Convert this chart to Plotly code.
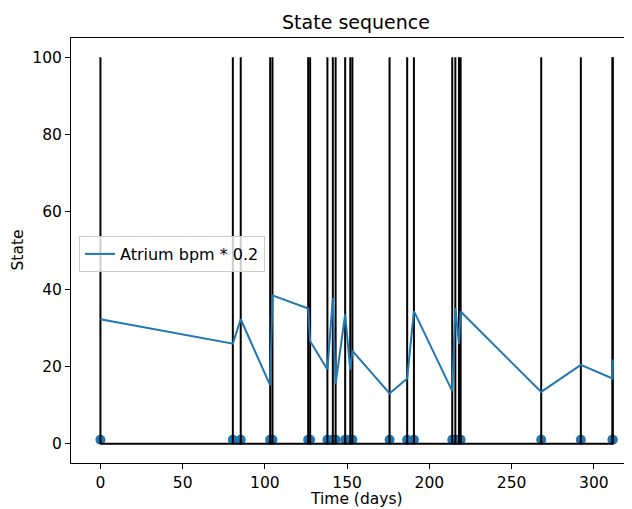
import plotly.graph_objects as go

# Event times (days) and the atrium bpm * 0.2 value recorded at each event
event_days = [0, 80.5, 85.3, 103.2, 104.6, 126.3, 127.5, 138.0, 141.3, 143.0,
              148.8, 151.9, 153.2, 175.8, 186.5, 190.6, 213.9, 215.8, 218.0,
              219.0, 268.0, 292.1, 311.3, 311.5]
atrium_bpm_scaled = [32.2, 25.9, 32.2, 15.1, 38.4, 35.0, 26.5, 19.2, 37.7, 15.5,
                     33.5, 19.1, 24.0, 13.0, 16.9, 34.3, 13.6, 35.2, 25.8,
                     34.2, 13.4, 20.4, 16.9, 21.8]
state_low = 0
state_high = 100
marker_level = 1

x_ticks = [0, 50, 100, 150, 200, 250, 300]
y_ticks = [0, 20, 40, 60, 80, 100]

BLUE = "#1f77b4"
FONT = "DejaVu Sans"

fig = go.Figure()

# Event markers
fig.add_trace(go.Scatter(
    x=event_days, y=[marker_level] * len(event_days), mode="markers",
    marker=dict(color=BLUE, size=10, line=dict(width=0)),
    showlegend=False, hoverinfo="skip"))

# Vertical state lines
vx, vy = [], []
for d in event_days:
    vx += [d, d, None]
    vy += [state_low, state_high, None]
fig.add_trace(go.Scatter(
    x=vx, y=vy, mode="lines", line=dict(color="black", width=2),
    showlegend=False, hoverinfo="skip"))

# Baseline
fig.add_trace(go.Scatter(
    x=[event_days[0], event_days[-1]], y=[state_low, state_low], mode="lines",
    line=dict(color="black", width=2), showlegend=False, hoverinfo="skip"))

# Atrium bpm line
fig.add_trace(go.Scatter(
    x=event_days, y=atrium_bpm_scaled, mode="lines",
    line=dict(color=BLUE, width=2), name="Atrium bpm * 0.2"))

# The page body adds an 8px offset; figure coordinates below compensate for it.
OFF = 8
W, H = 632 - OFF, 509 - OFF
L, R, T, B = 63, 0, 30, 46
pw = W - L - R
ph = H - T - B
plot_bottom = H - B

fig.update_layout(
    width=W, height=H,
    margin=dict(l=L, r=R, t=T, b=B, pad=0),
    paper_bgcolor="white", plot_bgcolor="white",
    font=dict(family=FONT, size=15, color="black"),
    title=dict(text="State sequence", font=dict(size=19, family=FONT, color="black"),
               x=(356 - OFF) / W, xref="container", xanchor="center",
               y=1 - (22 - OFF) / H, yref="container", yanchor="middle"),
    legend=dict(x=(79 - OFF - L) / pw, y=(plot_bottom - (236 - OFF)) / ph,
                xanchor="left", yanchor="top",
                bgcolor="rgba(255,255,255,0.8)", bordercolor="#cccccc", borderwidth=1,
                font=dict(size=16, family=FONT, color="black")),
    xaxis=dict(range=[-17.9, 323.2], tickvals=x_ticks, ticktext=[str(v) for v in x_ticks],
               showgrid=False, zeroline=False, showline=True, linecolor="black",
               linewidth=1, mirror=True, ticks="outside", ticklen=5, tickcolor="black",
               tickfont=dict(size=15.5, family=FONT, color="black")),
    yaxis=dict(range=[-5, 105], tickvals=y_ticks, ticktext=[str(v) for v in y_ticks],
               showgrid=False, zeroline=False, showline=True, linecolor="black",
               linewidth=1, mirror=False, ticks="outside", ticklen=5, tickcolor="black",
               tickfont=dict(size=15.5, family=FONT, color="black")),
    annotations=[
        dict(text="Time (days)", xref="paper", yref="paper",
             x=(356 - OFF - L) / pw, y=(plot_bottom - (499 - OFF)) / ph,
             xanchor="center", yanchor="middle",
             showarrow=False, font=dict(size=15.5, family=FONT, color="black")),
        dict(text="State", xref="paper", yref="paper",
             x=(17 - OFF - L) / pw, y=0.5, xanchor="center", yanchor="middle",
             textangle=-90,
             showarrow=False, font=dict(size=15.5, family=FONT, color="black")),
    ],
)

fig.write_html("out.html", config={"displayModeBar": False})
